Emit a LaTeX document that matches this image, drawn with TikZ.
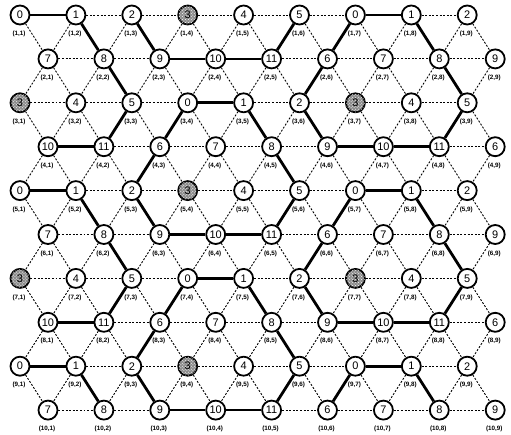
\documentclass[tikz,border=0pt]{standalone}
\usepackage{fontspec}
\setmainfont{Liberation Sans}
\usetikzlibrary{patterns,backgrounds}
\tikzset{
  vtx/.style={circle, draw, line width=1.8pt, fill=white, minimum size=19bp, inner sep=0pt, font=\fontsize{11}{11}\selectfont},
  hatch/.style={vtx, fill=black!45, postaction={pattern=crosshatch dots, pattern color=white}},
  lbl/.style={inner sep=0pt, font=\fontsize{6.3}{6.3}\selectfont\bfseries},
  dl/.style={line width=0.9pt, dash pattern=on 2pt off 1.6pt},
  tk/.style={line width=2.8pt}
}
\begin{document}
\begin{tikzpicture}[x=1bp,y=-1bp]
\useasboundingbox (0,0) rectangle (511,435);
\foreach \i in {1,...,10} {
  \foreach \j in {1,...,9} {
    \pgfmathtruncatemacro{\r}{mod(\i,4)}
    \pgfmathtruncatemacro{\lab}{(\r==1)*mod(\j-1,6)+(\r==3)*mod(\j+2,6)+(\r==2)*(6+mod(\j,6))+(\r==0)*(6+mod(\j+3,6))}
    \pgfmathsetmacro{\xx}{20+55.9*(\j-1)+28*(1-mod(\i,2))}
    \pgfmathsetmacro{\yy}{15+43.9*(\i-1)}
    \ifnum\lab=3 \tikzset{cur/.style={hatch}}\else\tikzset{cur/.style={vtx}}\fi
    \node[cur] (n\i-\j) at (\xx,\yy) {\lab};
    \node[lbl] (l\i-\j) at (\xx-1,\yy+19) {(\i,\j)};
  }
}
\begin{pgfonlayer}{background}
\foreach \i in {1,...,10} {
  \foreach \j in {1,...,8} {
    \pgfmathtruncatemacro{\jj}{\j+1}
    \draw[dl] (n\i-\j) -- (n\i-\jj);
  }
}
\foreach \i in {1,...,9} {
  \pgfmathtruncatemacro{\ii}{\i+1}
  \pgfmathtruncatemacro{\odd}{mod(\i,2)}
  \foreach \j in {1,...,9} {
    \draw[dl] (n\i-\j) -- (n\ii-\j);
    \ifnum\odd=1
      \ifnum\j>1 \pgfmathtruncatemacro{\jm}{\j-1}\draw[dl] (n\i-\j) -- (n\ii-\jm);\fi
    \else
      \ifnum\j<9 \pgfmathtruncatemacro{\jp}{\j+1}\draw[dl] (n\i-\j) -- (n\ii-\jp);\fi
    \fi
  }
}
\foreach \a/\b in {1-1/1-2, 1-2/2-2, 2-2/3-3, 3-3/4-2, 4-2/4-1,
  1-3/2-3, 2-3/2-4, 2-4/2-5, 2-5/1-6,
  1-7/1-8, 1-8/2-8, 2-8/3-9, 3-9/4-8, 4-8/4-7, 4-7/4-6, 4-6/3-6, 3-6/2-6, 2-6/1-7,
  3-4/3-5, 3-5/4-5, 4-5/5-6, 5-6/6-5, 6-5/6-4, 6-4/6-3, 6-3/5-3, 5-3/4-3, 4-3/3-4,
  5-1/5-2, 5-2/6-2, 6-2/7-3, 7-3/8-2, 8-2/8-1,
  5-7/5-8, 5-8/6-8, 6-8/7-9, 7-9/8-8, 8-8/8-7, 8-7/8-6, 8-6/7-6, 7-6/6-6, 6-6/5-7,
  7-4/7-5, 7-5/8-5, 8-5/9-6, 9-6/10-5, 10-5/10-4, 10-4/10-3, 10-3/9-3, 9-3/8-3, 8-3/7-4,
  9-1/9-2, 9-2/10-2,
  9-7/9-8, 9-8/10-8, 9-7/10-6} {
  \draw[tk] (n\a) -- (n\b);
}
\end{pgfonlayer}
\end{tikzpicture}
\end{document}
